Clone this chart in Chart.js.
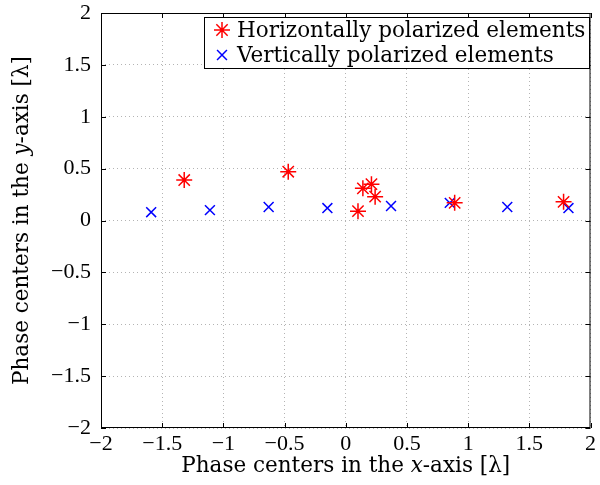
<!DOCTYPE html>
<html>
<head>
<meta charset="utf-8">
<script src="https://cdn.jsdelivr.net/npm/chart.js@4/dist/chart.umd.min.js"></script>
<style>
  html, body { margin: 0; padding: 0; background: #fff; }
  #wrap { width: 600px; height: 485px; }
</style>
</head>
<body>
<div id="wrap"><canvas id="phaseChart" width="600" height="485"></canvas></div>
<script>
// Phase centres (units of lambda)
const horizX = [-1.32, -0.47, 0.10, 0.14, 0.21, 0.24, 0.89, 1.78];
const horizY = [0.39, 0.47, 0.09, 0.31, 0.35, 0.23, 0.17, 0.18];
const vertX = [-1.59, -1.11, -0.63, -0.15, 0.37, 0.85, 1.32, 1.82];
const vertY = [0.08, 0.10, 0.13, 0.12, 0.14, 0.17, 0.13, 0.12];
const seriesNames = ['Horizontally polarized elements', 'Vertically polarized elements'];
const seriesColors = ['#ff0000', '#0000ff'];
const axisMin = -2, axisMax = 2, axisStep = 0.5;
const xTitle = [['Phase centers in the ', ''], ['x', 'italic '], ['-axis [λ]', '']];
const yTitle = [['Phase centers in the ', ''], ['y', 'italic '], ['-axis [λ]', '']];

const FONT = '"Liberation Serif", "DejaVu Serif", serif';
const TEXT_FONT = '"DejaVu Serif", serif';
const TEXT_SIZE = 21.5;
const toPts = (xs, ys) => xs.map((x, i) => ({ x, y: ys[i] }));
const fmt = (v) => String(v).replace('-', '\u2212');

function drawRich(ctx, parts, size) {
  let w = 0;
  parts.forEach(([t, st]) => { ctx.font = st + size + 'px ' + TEXT_FONT; w += ctx.measureText(t).width; });
  let x = -w / 2;
  parts.forEach(([t, st]) => {
    ctx.font = st + size + 'px ' + TEXT_FONT;
    ctx.fillText(t, x, 0);
    x += ctx.measureText(t).width;
  });
}

// box, inward ticks, legend, axis titles
const matlabFrame = {
  id: 'matlabFrame',
  afterDraw(chart) {
    const { ctx, chartArea: a, scales } = chart;
    ctx.save();
    ctx.strokeStyle = '#000';
    ctx.lineWidth = 1;
    ctx.strokeRect(a.left + 0.5, a.top + 0.5, a.right - a.left - 1, a.bottom - a.top - 1);
    const tl = 5;
    ctx.beginPath();
    scales.x.ticks.forEach((t) => {
      const px = Math.round(scales.x.getPixelForValue(t.value)) + 0.5;
      ctx.moveTo(px, a.bottom); ctx.lineTo(px, a.bottom - tl);
      ctx.moveTo(px, a.top); ctx.lineTo(px, a.top + tl);
    });
    scales.y.ticks.forEach((t) => {
      const py = Math.round(scales.y.getPixelForValue(t.value)) + 0.5;
      ctx.moveTo(a.left, py); ctx.lineTo(a.left + tl, py);
      ctx.moveTo(a.right, py); ctx.lineTo(a.right - tl, py);
    });
    ctx.stroke();

    // legend
    const lx = 204, ly = 17, lw = 385, lh = 51;
    ctx.fillStyle = '#fff';
    ctx.fillRect(lx, ly, lw, lh);
    ctx.strokeRect(lx + 0.5, ly + 0.5, lw, lh);
    chart.data.datasets.forEach((ds, i) => {
      const cy = ly + 13 + i * 25;
      ctx.strokeStyle = ds.borderColor;
      ctx.lineWidth = 1.5;
      Chart.helpers.drawPoint(ctx, {
        pointStyle: ds.pointStyle, radius: ds.radius, borderWidth: 1.5
      }, lx + 18, cy);
      ctx.fillStyle = '#000';
      ctx.font = TEXT_SIZE + 'px ' + TEXT_FONT;
      ctx.textBaseline = 'middle';
      ctx.textAlign = 'left';
      ctx.fillText(ds.label, lx + 33, cy + 1);
    });

    // axis titles
    ctx.fillStyle = '#000';
    ctx.textBaseline = 'middle';
    ctx.textAlign = 'left';
    ctx.save();
    ctx.translate((a.left + a.right) / 2, 466);
    drawRich(ctx, xTitle, TEXT_SIZE);
    ctx.restore();
    ctx.save();
    ctx.translate(22, (a.top + a.bottom) / 2);
    ctx.rotate(-Math.PI / 2);
    drawRich(ctx, yTitle, TEXT_SIZE);
    ctx.restore();
    ctx.restore();
  }
};

function axis(pos, size) {
  return {
    type: 'linear',
    position: pos,
    min: axisMin,
    max: axisMax,
    ticks: {
      stepSize: axisStep,
      color: '#000',
      font: { family: FONT, size: 22 },
      padding: pos === 'bottom' ? 3 : 10,
      maxRotation: 0,
      callback: (v) => fmt(v)
    },
    grid: { color: '#b4b4b4', lineWidth: 1, drawTicks: false },
    border: { display: false, dash: [1, 3] },
    afterFit(scale) {
      // fixed axis band, no extra room for overhanging end labels
      if (pos === 'bottom') {
        scale.height = size;
        scale.paddingLeft = 0;
        scale.paddingRight = 0;
      } else {
        scale.width = size;
        scale.paddingTop = 0;
        scale.paddingBottom = 0;
      }
    }
  };
}

new Chart(document.getElementById('phaseChart'), {
  type: 'scatter',
  data: {
    datasets: [
      {
        label: seriesNames[0],
        data: toPts(horizX, horizY),
        pointStyle: 'star',
        radius: 8,
        borderWidth: 1.5,
        borderColor: seriesColors[0],
        backgroundColor: seriesColors[0]
      },
      {
        label: seriesNames[1],
        data: toPts(vertX, vertY),
        pointStyle: 'crossRot',
        radius: 7,
        borderWidth: 1.5,
        borderColor: seriesColors[1],
        backgroundColor: seriesColors[1]
      }
    ]
  },
  options: {
    responsive: false,
    animation: false,
    layout: { padding: { top: 13, right: 3, left: 0, bottom: 0 } },
    plugins: { legend: { display: false }, tooltip: { enabled: false } },
    scales: { x: axis('bottom', 57), y: axis('left', 101) }
  },
  plugins: [matlabFrame]
});
</script>
</body>
</html>
